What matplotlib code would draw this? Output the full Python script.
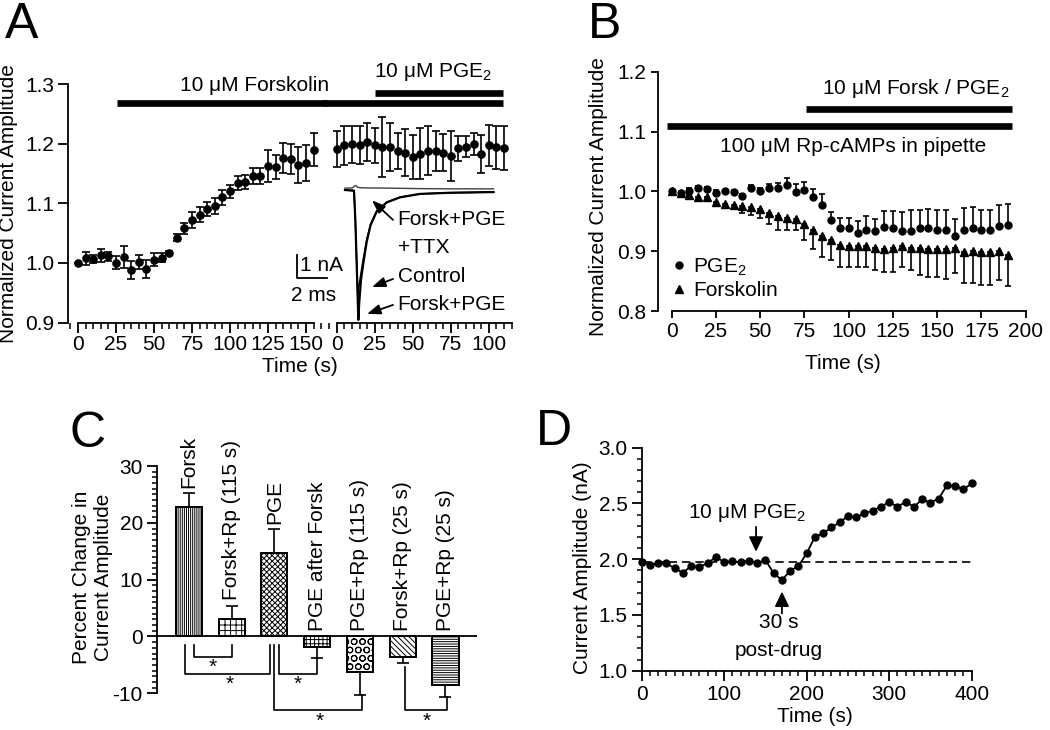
import numpy as np
import matplotlib
matplotlib.use("Agg")
import matplotlib.pyplot as plt
from matplotlib.ticker import MultipleLocator, FormatStrFormatter
from matplotlib.lines import Line2D

W, H = 1050, 730

plt.rcParams.update({
    "font.family": ["Liberation Sans", "DejaVu Sans"],
    "font.size": 15,
    "mathtext.fontset": "custom",
    "mathtext.rm": "Liberation Sans",
    "mathtext.default": "regular",
    "axes.unicode_minus": False,
    "axes.linewidth": 1.3,
    "xtick.major.width": 1.3,
    "ytick.major.width": 1.3,
    "xtick.minor.width": 1.1,
    "ytick.minor.width": 1.1,
    "xtick.labelsize": 15,
    "ytick.labelsize": 15,
    "hatch.linewidth": 0.7,
    "lines.linewidth": 1.3,
})

# ---- panel A: forskolin then PGE2 (two time segments) ----
a1_t = np.arange(0, 160, 5)
a1_mean = [1.000, 1.008, 1.007, 1.013, 1.011, 1.000, 1.010, 0.988, 1.002, 0.990,
           1.005, 1.009, 1.017, 1.042, 1.058, 1.072, 1.081, 1.090, 1.095, 1.110,
           1.120, 1.134, 1.136, 1.146, 1.146, 1.163, 1.161, 1.176, 1.174, 1.164,
           1.167, 1.190]
a1_sem = [0.0, 0.011, 0.007, 0.011, 0.008, 0.011, 0.019, 0.015, 0.012, 0.015,
          0.011, 0.008, 0.003, 0.006, 0.009, 0.013, 0.012, 0.012, 0.013, 0.013,
          0.011, 0.011, 0.012, 0.013, 0.013, 0.027, 0.020, 0.025, 0.025, 0.030,
          0.030, 0.027]
a2_t = np.arange(0, 115, 5)
a2_mean = [1.191, 1.197, 1.199, 1.197, 1.203, 1.197, 1.194, 1.194, 1.188, 1.185,
           1.177, 1.183, 1.188, 1.188, 1.185, 1.180, 1.192, 1.195, 1.199, 1.182,
           1.197, 1.194, 1.193]
a2_sem = [0.030, 0.033, 0.031, 0.032, 0.032, 0.030, 0.050, 0.040, 0.030, 0.040,
          0.037, 0.043, 0.041, 0.034, 0.031, 0.042, 0.021, 0.017, 0.018, 0.032,
          0.035, 0.036, 0.037]
forsk_on_a = 25.7      # s, segment 1
pge_on_a = 25.2        # s, segment 2
drug_off_a = 109.4     # s, segment 2

# inset current traces (ms, nA)
tr_pge_t = [0, 0.6, 0.69, 0.78, 0.89, 0.95, 1.07, 1.22, 1.45, 1.71, 2.11, 2.78, 3.67, 5.0, 7.0, 9.9]
tr_pge_i = [0, -0.03, -1.3, -3.2, -5.65, -4.9, -3.9, -3.2, -2.25, -1.52, -0.94, -0.54, -0.32, -0.17, -0.12, -0.09]
tr_ctl_t = [0, 0.6, 0.69, 0.78, 0.85, 0.95, 1.07, 1.22, 1.45, 1.71, 2.11, 2.78, 3.67, 5.0, 7.0, 9.9]
tr_ctl_i = [0, -0.03, -1.3, -3.2, -4.57, -4.1, -3.6, -3.0, -2.15, -1.48, -0.92, -0.53, -0.31, -0.17, -0.12, -0.09]
tr_ttx_t = [0, 0.5, 0.7, 0.85, 1.0, 1.5, 3.0, 5.0, 7.0, 9.9]
tr_ttx_i = [0.08, 0.09, 0.2, 0.12, 0.1, 0.09, 0.08, 0.06, 0.05, 0.05]

# ---- panel B: Rp-cAMPs in pipette ----
b_t = np.arange(0, 195, 5)
pge_mean = [1.000, 0.998, 1.001, 1.006, 1.004, 0.998, 1.000, 0.999, 0.992, 1.006,
            1.001, 1.006, 1.006, 1.010, 0.999, 1.002, 0.991, 0.977, 0.952, 0.938,
            0.938, 0.930, 0.935, 0.933, 0.940, 0.938, 0.933, 0.933, 0.939, 0.938,
            0.935, 0.936, 0.926, 0.935, 0.938, 0.935, 0.935, 0.942, 0.943]
pge_err = [0.0, 0.003, 0.005, 0.003, 0.003, 0.004, 0.003, 0.003, 0.004, 0.005,
           0.004, 0.006, 0.008, 0.013, 0.013, 0.014, 0.013, 0.018, 0.013, 0.017,
           0.017, 0.020, 0.024, 0.021, 0.027, 0.029, 0.032, 0.035, 0.030, 0.032,
           0.034, 0.033, 0.028, 0.038, 0.036, 0.034, 0.034, 0.035, 0.036]
fsk_mean = [1.000, 0.997, 0.994, 0.990, 0.991, 0.983, 0.979, 0.978, 0.976, 0.974,
            0.971, 0.964, 0.958, 0.956, 0.954, 0.945, 0.936, 0.926, 0.918, 0.910,
            0.909, 0.909, 0.908, 0.906, 0.903, 0.905, 0.909, 0.906, 0.905, 0.904,
            0.904, 0.903, 0.906, 0.898, 0.901, 0.899, 0.899, 0.901, 0.893]
fsk_err = [0.0, 0.003, 0.004, 0.004, 0.004, 0.007, 0.006, 0.007, 0.012, 0.014,
           0.015, 0.018, 0.022, 0.021, 0.019, 0.027, 0.032, 0.035, 0.033, 0.036,
           0.035, 0.035, 0.035, 0.037, 0.037, 0.040, 0.035, 0.038, 0.045, 0.047,
           0.047, 0.050, 0.042, 0.052, 0.054, 0.056, 0.056, 0.049, 0.052]
rp_span = (-2.8, 192)
drug_span_b = (75.6, 192)

# ---- panel C: summary bars ----
c_labels = ["Forsk", "Forsk+Rp (115 s)", "PGE", "PGE after Forsk",
            "PGE+Rp (115 s)", "Forsk+Rp (25 s)", "PGE+Rp (25 s)"]
c_vals = [22.7, 3.05, 14.7, -1.9, -6.3, -3.6, -8.6]
c_errs = [2.5, 2.35, 4.2, 1.9, 4.0, 1.0, 2.1]
c_hatch = ["||||||||", "+++", "xxxxxx", "++++", "OO", "\\\\\\\\\\\\", "-------"]
# brackets: x left, left top, x right, right top, bottom y, star x
c_brackets = [(0.12, -1.5, 1.02, -1.5, -3.6, 0.57),
              (-0.09, -1.5, 1.90, -1.5, -6.6, 0.96),
              (2.12, -1.5, 3.00, -3.8, -6.6, 2.54),
              (2.00, -1.5, 4.04, -10.3, -13.0, 3.05),
              (5.05, -5.4, 6.03, -10.7, -13.0, 5.56)]

# ---- panel D: single cell ----
d_t = np.arange(0, 410, 10)
d_amp = [1.978, 1.948, 1.963, 1.963, 1.918, 1.879, 1.939, 1.933, 1.963, 2.022,
         1.972, 1.981, 1.972, 1.987, 1.963, 1.993, 1.873, 1.813, 1.897, 1.939,
         2.052, 2.202, 2.232, 2.286, 2.330, 2.387, 2.375, 2.411, 2.435, 2.471,
         2.513, 2.471, 2.513, 2.471, 2.537, 2.507, 2.543, 2.662, 2.656, 2.626,
         2.680]
d_base = 1.972
d_drug_t = 138.6
d_post_t = 170


fig = plt.figure(figsize=(W / 100, H / 100), dpi=100)


def px_axes(l, t, r, b):
    ax = fig.add_axes([l / W, 1 - b / H, (r - l) / W, (b - t) / H])
    ax.set_facecolor("none")
    for s in ("top", "right"):
        ax.spines[s].set_visible(False)
    return ax


def ftext(x, y, s, **kw):
    fig.text(x / W, 1 - y / H, s, **kw)


bar_kw = dict(color="k", lw=4.8, solid_capstyle="butt", clip_on=False)
eb_kw = dict(color="k", elinewidth=1.2, capthick=1.2, clip_on=False)

# ================= A =================
axA1 = px_axes(68, 84, 325, 322.5)
axA1.set_xlim(-6.6, 162.5)
axA1.set_ylim(0.9, 1.3)
axA1.spines["bottom"].set_bounds(0, 155)
axA1.set_yticks([0.9, 1.0, 1.1, 1.2, 1.3])
axA1.yaxis.set_major_formatter(FormatStrFormatter("%.1f"))
axA1.errorbar(a1_t, a1_mean, yerr=a1_sem, fmt="o", ms=5.2, capsize=3, **eb_kw)
axA1.plot([forsk_on_a, 164], [1.268, 1.268], **bar_kw)
axA1.text(116, 1.297, "10 μM Forskolin", ha="center", va="center")

axA2 = px_axes(325, 84, 515, 322.5)
axA2.set_xlim(-7.7, 117.3)
axA2.set_ylim(0.9, 1.3)
axA2.spines["left"].set_visible(False)
axA2.spines["bottom"].set_bounds(0, 115)
axA2.set_yticks([])
axA2.errorbar(a2_t, a2_mean, yerr=a2_sem, fmt="o", ms=5.2, capsize=3, **eb_kw)
axA2.plot([-9, drug_off_a], [1.268, 1.268], **bar_kw)
axA2.plot([pge_on_a, drug_off_a], [1.285, 1.285], **bar_kw)
axA2.text(63.6, 1.320, "10 μM PGE$_2$", ha="center", va="center")

for ax in (axA1, axA2):
    ax.xaxis.set_major_locator(MultipleLocator(25))
    ax.xaxis.set_minor_locator(MultipleLocator(5))
    ax.tick_params(axis="x", which="major", length=7, pad=2)
    ax.tick_params(axis="x", which="minor", length=4.5)
    ax.tick_params(axis="y", which="major", length=7, pad=3)

axIn = px_axes(280, 180, 500, 330)
axIn.axis("off")
axIn.set_xlim(-4.33, 10.33)
axIn.set_ylim(-6.09, 0.435)
axIn.plot(tr_ttx_t, tr_ttx_i, color="0.25", lw=1.0)
axIn.plot(tr_pge_t, tr_pge_i, color="k", lw=1.6)
axIn.plot(tr_ctl_t, tr_ctl_i, color="k", lw=1.1)
axIn.plot([-3.22, -3.22, -1.22], [-2.83, -3.84, -3.84], color="k", lw=1.3)
axIn.text(-3.0, -3.3, "1 nA", ha="left", va="center")
axIn.text(-2.1, -4.6, "2 ms", ha="center", va="center")
arr_in = dict(arrowstyle="-|>,head_width=0.3,head_length=0.8", color="k",
              lw=1.3, mutation_scale=10, shrinkA=0, shrinkB=0)
axIn.annotate("", xy=(1.8, -0.45), xytext=(3.2, -1.3), arrowprops=arr_in)
axIn.annotate("", xy=(1.8, -4.22), xytext=(3.2, -3.87), arrowprops=arr_in)
axIn.annotate("", xy=(1.47, -5.39), xytext=(3.2, -5.0), arrowprops=arr_in)
axIn.text(3.45, -1.30, "Forsk+PGE", ha="left", va="center")
axIn.text(3.5, -2.48, "+TTX", ha="left", va="center")
axIn.text(3.5, -3.78, "Control", ha="left", va="center")
axIn.text(3.5, -4.96, "Forsk+PGE", ha="left", va="center")

ftext(300, 366, "Time (s)", ha="center", va="center")
ftext(9, 204, "Normalized Current Amplitude", rotation=90, ha="center", va="center")

# ================= B =================
axB = px_axes(657.7, 71.7, 1030, 311)
axB.set_xlim(-7.9, 202.4)
axB.set_ylim(0.8, 1.2)
axB.spines["bottom"].set_bounds(0, 200)
axB.set_xticks(np.arange(0, 225, 25))
axB.set_yticks([0.8, 0.9, 1.0, 1.1, 1.2])
axB.yaxis.set_major_formatter(FormatStrFormatter("%.1f"))
axB.tick_params(length=5, pad=3)
axB.errorbar(b_t, fsk_mean, yerr=[fsk_err, np.zeros(len(fsk_err))], fmt="^",
             ms=6, capsize=2.5, **eb_kw)
axB.errorbar(b_t, pge_mean, yerr=[np.zeros(len(pge_err)), pge_err], fmt="o",
             ms=5, capsize=2.5, **eb_kw)
axB.plot(rp_span, [1.110, 1.110], **bar_kw)
axB.plot(drug_span_b, [1.138, 1.138], **bar_kw)
axB.text(138, 1.172, "10 μM Forsk / PGE$_2$", ha="center", va="center")
axB.text(102.5, 1.075, "100 μM Rp-cAMPs in pipette", ha="center", va="center")
handles = [Line2D([], [], ls="none", marker="o", ms=5, color="k"),
           Line2D([], [], ls="none", marker="^", ms=6, color="k")]
axB.legend(handles, ["PGE$_2$", "Forskolin"], loc="lower left",
           bbox_to_anchor=(0.0, -0.015), frameon=False, handlelength=0.6,
           handletextpad=0.4, labelspacing=0.15, borderpad=0.2)
ftext(843, 364, "Time (s)", ha="center", va="center")
ftext(599, 197, "Normalized Current Amplitude", rotation=90, ha="center", va="center")

# ================= C =================
axC = px_axes(156.7, 466, 476.7, 693.3)
axC.set_xlim(-0.75, 6.73)
axC.set_ylim(-10, 30)
axC.spines["bottom"].set_visible(False)
axC.set_xticks([])
axC.set_yticks([-10, 0, 10, 20, 30])
axC.yaxis.set_minor_locator(MultipleLocator(1))
axC.tick_params(axis="y", which="major", length=7, pad=3)
axC.tick_params(axis="y", which="minor", length=3.6)
axC.axhline(0, color="k", lw=1.3)
xs = np.arange(len(c_vals))
axC.bar(xs, c_vals, width=0.61, color="white", edgecolor="k", lw=1.3, zorder=2)
for x, v, h in zip(xs, c_vals, c_hatch):
    axC.bar(x, v, width=0.61, color="none", edgecolor="k", lw=1.3, hatch=h, zorder=3)
lo = [e if v < 0 else 0 for v, e in zip(c_vals, c_errs)]
hi = [e if v > 0 else 0 for v, e in zip(c_vals, c_errs)]
axC.errorbar(xs, c_vals, yerr=[lo, hi], fmt="none", capsize=4, zorder=4, **eb_kw)
for x, v, e, lab in zip(xs, c_vals, c_errs, c_labels):
    base = v + e if v > 0 else 0
    axC.annotate(lab, (x, base), xytext=(0, 4), textcoords="offset points",
                 rotation=90, ha="center", va="bottom")
for xl, yl, xr, yr, yb, xs_ in c_brackets:
    axC.plot([xl, xl, xr, xr], [yl, yb, yb, yr], color="k", lw=1.2, clip_on=False)
    axC.text(xs_, yb - 1.9, "*", ha="center", va="center", fontsize=15)
ftext(92.5, 577, "Percent Change in\nCurrent Amplitude", rotation=90,
      ha="center", va="center", linespacing=1.2)

# ================= D =================
axD = px_axes(641.7, 447.7, 971.7, 670.7)
axD.set_xlim(0, 400)
axD.set_ylim(1.0, 3.0)
axD.set_xticks([0, 100, 200, 300, 400])
axD.xaxis.set_minor_locator(MultipleLocator(10))
axD.yaxis.set_major_locator(MultipleLocator(0.5))
axD.yaxis.set_minor_locator(MultipleLocator(0.1))
axD.yaxis.set_major_formatter(FormatStrFormatter("%.1f"))
axD.tick_params(which="major", length=7, pad=3)
axD.tick_params(which="minor", length=3.6)
axD.plot([0, 400], [d_base, d_base], color="k", lw=1.2, ls=(0, (5, 3)))
axD.plot(d_t, d_amp, "-o", color="k", ms=5, lw=1.3, clip_on=False)
arr_d = dict(arrowstyle="-|>,head_width=0.36,head_length=0.75", color="k",
             lw=1.3, mutation_scale=12, shrinkA=0, shrinkB=0)
axD.annotate("", xy=(d_drug_t, 2.067), xytext=(d_drug_t, 2.29), arrowprops=arr_d)
axD.annotate("", xy=(d_post_t, 1.71), xytext=(d_post_t, 1.514), arrowprops=arr_d)
axD.text(128, 2.41, "10 μM PGE$_2$", ha="center", va="center")
axD.text(166.5, 1.43, "30 s", ha="center", va="center")
axD.text(166.5, 1.185, "post-drug", ha="center", va="center")
ftext(815, 717, "Time (s)", ha="center", va="center")
ftext(583, 568, "Current Amplitude (nA)", rotation=90, ha="center", va="center")

# panel letters
for x, y, s in [(22, 38, "A"), (605, 38, "B"), (88, 447, "C"), (554, 445, "D")]:
    ftext(x, y, s, fontsize=36, ha="center", va="baseline")

fig.savefig("out.png", dpi=100)
